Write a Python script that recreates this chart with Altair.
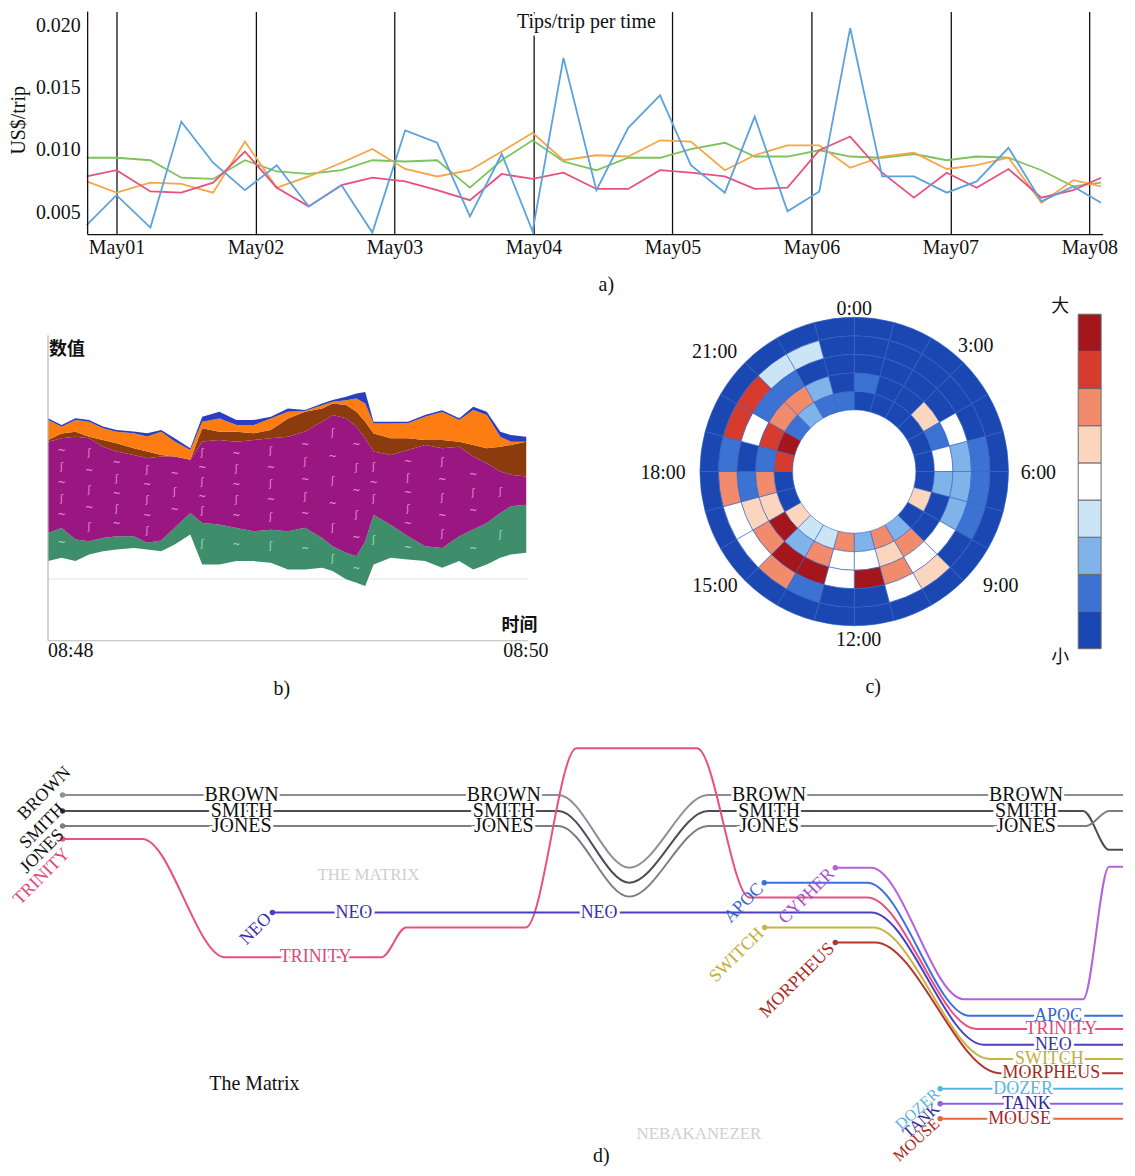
import json
import altair as alt
import pandas as pd

SERIF = "Liberation Serif"
CJK = "Noto Sans CJK SC"

# ======================= (a) Tips/trip per time =======================
A_DAYS = [-0.215, 0.0, 0.244, 0.466, 0.695, 0.924, 1.153, 1.383, 1.619, 1.841, 2.077,
          2.307, 2.543, 2.772, 2.994, 3.216, 3.453, 3.682, 3.911, 4.133, 4.377, 4.592,
          4.828, 5.057, 5.279, 5.509, 5.738, 5.974, 6.189, 6.418, 6.655, 6.884, 7.084]
A_BLUE = [0.0040, 0.0064, 0.0038, 0.0123, 0.0090, 0.0068, 0.0088, 0.0055, 0.0072, 0.0034,
          0.0116, 0.0106, 0.0047, 0.0097, 0.0035, 0.0174, 0.0068, 0.0118, 0.0144, 0.0088,
          0.0066, 0.0127, 0.0051, 0.0067, 0.0198, 0.0079, 0.0079, 0.0066, 0.0075, 0.0102,
          0.0059, 0.0071, 0.0058]
A_PINK = [0.0079, 0.0084, 0.0067, 0.0066, 0.0074, 0.0099, 0.0070, 0.0055, 0.0072, 0.0078,
          0.0075, 0.0068, 0.0060, 0.0081, 0.0077, 0.0082, 0.0069, 0.0069, 0.0084, 0.0082,
          0.0079, 0.0069, 0.0070, 0.0100, 0.0111, 0.0082, 0.0062, 0.0082, 0.0070, 0.0085,
          0.0062, 0.0068, 0.0078]
A_ORANGE = [0.0075, 0.0066, 0.0074, 0.0073, 0.0066, 0.0107, 0.0070, 0.0079, 0.0090, 0.0101,
            0.0085, 0.0079, 0.0084, 0.0099, 0.0114, 0.0092, 0.0096, 0.0095, 0.0108, 0.0107,
            0.0084, 0.0096, 0.0104, 0.0104, 0.0086, 0.0095, 0.0098, 0.0085, 0.0088, 0.0094,
            0.0058, 0.0076, 0.0071]
A_GREEN = [0.0094, 0.0094, 0.0092, 0.0078, 0.0077, 0.0092, 0.0083, 0.0081, 0.0084, 0.0092,
           0.0091, 0.0092, 0.0070, 0.0092, 0.0108, 0.0091, 0.0084, 0.0094, 0.0094, 0.0101,
           0.0106, 0.0095, 0.0095, 0.0100, 0.0095, 0.0094, 0.0097, 0.0092, 0.0095, 0.0094,
           0.0084, 0.0071, 0.0074]
A_DAY_LABELS = ["May01", "May02", "May03", "May04", "May05", "May06", "May07", "May08"]
A_Y_TICKS = [0.005, 0.010, 0.015, 0.020]
A_SERIES = ["green", "orange", "pink", "blue"]
A_COLORS = ["#7cc35e", "#f5a646", "#e8507f", "#5ba2df"]
A_X_MIN, A_X_MAX = -0.2077, 7.099
A_Y_MIN, A_Y_MAX = 0.00324, 0.02112

# ======================= (b) stream graph =======================
B_TIME = [0, 3.4, 6.9, 10.3, 13.8, 17.2, 21.5, 24.9, 28.4, 31.8, 35.7, 38.7, 43.0, 47.3,
          51.6, 55.9, 60.2, 64.5, 68.8, 71.4, 74.8, 77.4, 79.6, 81.7, 86.0, 90.3, 94.6,
          98.9, 103.2, 106.7, 110.1, 113.5, 116.1, 120]
B_BASE = [80, 83.3, 80, 86.7, 90, 91.7, 93.3, 91.7, 90, 96.7, 106.7, 76.7, 76.7, 80, 80,
          78.3, 71.7, 71.7, 73.3, 70, 61.7, 58.3, 55, 76.7, 83.3, 81.7, 80, 73.3, 80, 71.7,
          76.7, 83.3, 86.7, 88.3]
B_GREEN = [28.3, 30, 21.7, 13.3, 13.3, 13.3, 11.7, 6.7, 10.7, 16.7, 21.7, 41.7, 40, 33.3,
           30, 33.3, 38.3, 41.7, 30, 25, 26.7, 26.7, 45, 50, 33.3, 23.3, 15, 20, 25, 40,
           41.7, 45, 48.3, 48.3]
B_PURPLE = [91.7, 90, 103.3, 103.3, 91.7, 85, 81.7, 85, 84.3, 71.7, 53.3, 81.7, 85, 86.7,
            91.7, 91.7, 95, 96.7, 116.7, 131.7, 135, 130, 103.3, 63.3, 70, 86.7, 101.7, 100,
            90, 73.3, 60, 41.7, 31.7, 28.3]
B_BROWN = [1.7, 5, 5, 1.7, 6.7, 8.3, 6.7, 6.7, 1.7, 0, 0, 13.3, 8.3, 10, 6.7, 8.3, 18.3,
           20, 13.3, 11.7, 13.3, 15, 16.7, 18.3, 16.7, 11.7, 5, 8.3, 5, 11.7, 15, 25, 30, 35]
B_ORANGE = [20, 6.7, 11.7, 15, 11.7, 11.7, 15, 15, 23.3, 15, 10, 6.7, 13.3, 6.7, 8.3, 11.7,
            6.7, 0.7, 3.3, 1.7, 5, 13.3, 18.3, 10, 15, 15, 23.3, 28.3, 21.7, 35, 33.3, 10,
            3.3, 0]
B_BLUE = [1.7, 1.7, 1.7, 1.7, 1.7, 1.7, 1.7, 3.3, 1.7, 3.3, 1.7, 5, 6.7, 5, 5, 1.7, 3.3, 1,
          1.7, 1.7, 3.3, 5, 11.7, 1.7, 1.7, 1.7, 1.7, 1.7, 1.7, 3.3, 3.3, 5, 6.7, 5]
B_SERIES = ["green", "purple", "brown", "orange", "blue"]
B_COLORS = ["#3e8e6b", "#9a1680", "#8b3b0e", "#fd7d12", "#2a3fbf"]
B_TEXTURE_FRACS_FULL = [0.14, 0.32, 0.5, 0.68, 0.86]
B_TEXTURE_FRACS_MID = [0.25, 0.5, 0.75]
B_TEXTURE_GLYPHS = ["~", "ʃ"]

# ======================= (c) polar heat map =======================
C_RING0 = [0, 0, 0, 0, 0, 0, 0, 5, 0, 2, 6, 2, 6, 3, 3, 5, 0, 0, 7, 8, 1, 2, 1, 1]
C_RING1 = [1, 0, 0, 5, 1, 4, 2, 0, 0, 6, 5, 4, 4, 6, 2, 8, 5, 6, 1, 7, 6, 6, 2, 0]
C_RING2 = [0, 0, 0, 0, 4, 2, 2, 2, 4, 4, 6, 8, 4, 8, 8, 6, 5, 1, 0, 4, 1, 1, 0, 0]
C_RING3 = [0, 0, 0, 0, 0, 1, 1, 1, 0, 5, 4, 0, 0, 1, 6, 4, 4, 6, 1, 7, 7, 3, 3, 0]
C_RING4 = [0, 0, 0, 0, 0, 0, 0, 0, 0, 0, 0, 0, 0, 0, 0, 0, 0, 0, 0, 0, 0, 0, 0, 0]
C_COLORS = ["#1b47b3", "#3c72d2", "#80b3ea", "#cbe5f7", "#ffffff",
            "#fcd5bf", "#f28b6b", "#d63b2e", "#a4151c"]
C_HOUR_LABELS = ["0:00", "3:00", "6:00", "9:00", "12:00", "15:00", "18:00", "21:00"]
C_HOUR_POS = [0, 2.94, 6.04, 8.53, 11.9, 15.37, 17.96, 20.7]
C_HOUR_RING = [5.43, 6.10, 6.61, 6.70, 5.75, 6.40, 6.99, 6.58]
C_LEGEND_TEXT = ["大", "小"]
C_LEGEND_POS = [9.2, -0.24]

# ======================= (d) storyline =======================
D_NAMES = ["BROWN", "SMITH", "JONES", "TRINITY", "NEO", "APOC", "CYPHER", "SWITCH",
           "MORPHEUS", "DOZER", "TANK", "MOUSE"]
BROWN_X = [53.8, 552, 623, 702, 1119]
BROWN_Y = [65, 65, 138, 65, 65]
SMITH_X = [53.8, 552, 623, 702, 1079, 1105, 1119]
SMITH_Y = [81, 81, 153, 81, 81, 120, 120]
JONES_X = [53.8, 552, 623, 702, 1082, 1105, 1119]
JONES_Y = [96, 96, 167, 96, 96, 81, 81]
TRINITY_X = [53.8, 134, 217, 374, 399, 519, 570, 691, 744, 862, 972, 1119]
TRINITY_Y = [109, 109, 228, 228, 198, 198, 18, 18, 168, 168, 300, 300]
NEO_X = [264.6, 866, 979, 1119]
NEO_Y = [183, 183, 315.7, 315.7]
APOC_X = [758.6, 862, 965, 1119]
APOC_Y = [153, 153, 286.7, 286.7]
CYPHER_X = [830, 866, 959, 1079, 1105, 1119]
CYPHER_Y = [138, 138, 270, 270, 137, 137]
SWITCH_X = [759, 868, 985, 1119]
SWITCH_Y = [198, 198, 330, 330]
MORPHEUS_X = [830, 870, 995, 1119]
MORPHEUS_Y = [213, 213, 344.3, 344.3]
DOZER_X = [935.3, 1119]
DOZER_Y = [360, 360]
TANK_X = [935.3, 1119]
TANK_Y = [375, 375]
MOUSE_X = [935.3, 1119]
MOUSE_Y = [390, 390]

D_LINE_COLORS = ["#8e8e9a", "#4d4d57", "#7d7d88", "#e9507e", "#4b3fc4", "#3d6fdc",
                 "#b562d8", "#c7b443", "#b5352b", "#56b6e2", "#8b63e0", "#e06a3c"]
D_TEXT_COLORS = ["#111111", "#111111", "#111111", "#e0457a", "#3a2fa8", "#3563d0",
                 "#a64fcf", "#bfae3a", "#a8281f", "#5ab4e0", "#2f2a8a", "#a8281f"]

D_BIG_NAMES = ["BROWN", "SMITH", "JONES"] * 4
D_BIG_X = [233.7] * 3 + [497] * 3 + [763.5] * 3 + [1021.6] * 3
D_BIG_Y = [65, 81, 96] * 4
D_INLINE_NAMES = ["TRINITY", "TRINITY", "NEO", "NEO", "NEO", "APOC", "SWITCH", "MORPHEUS",
                  "DOZER", "TANK", "MOUSE"]
D_INLINE_X = [308, 1057, 346.4, 592.7, 1049, 1053.7, 1045, 1047, 1018.7, 1022, 1015]
D_INLINE_Y = [228, 300, 183, 183, 315.7, 286.7, 330, 344.3, 360, 375, 390]

D_DOT_X = [53.8, 53.8, 53.8, 53.8, 264.6, 758.6, 830, 759, 830, 935.3, 935.3, 935.3]
D_DOT_Y = [65, 81, 96, 109, 183, 153, 138, 198, 213, 360, 375, 390]
D_TAG_X = [63, 57, 56, 62, 264.6, 758.6, 830, 759, 830, 935.3, 935.3, 935.3]
D_TAG_Y = [36, 73, 99, 118, 183, 153, 138, 198, 213, 360, 375, 390]
D_TAG_NAMES_BIG = D_NAMES[:9]
D_TAG_NAMES_SMALL = D_NAMES[9:]

D_NOTE_TEXT = ["THE MATRIX", "NEBAKANEZER"]
D_NOTE_X = [361, 693]
D_NOTE_Y = [145, 405]

# ======================= build (a) =======================
a_rows = []
for nm, vals in zip(A_SERIES, [A_GREEN, A_ORANGE, A_PINK, A_BLUE]):
    for d, v in zip(A_DAYS, vals):
        a_rows.append({"day": d, "val": v, "series": nm})
a_df = pd.DataFrame(a_rows)
label_expr = json.dumps(A_DAY_LABELS) + "[datum.value]"
ax_s = alt.Scale(domain=[-0.7736, A_X_MAX], nice=False, zero=False)
ay_s = alt.Scale(domain=[A_Y_MIN, A_Y_MAX], nice=False, zero=False)

a_lines = alt.Chart(a_df).mark_line(strokeWidth=1.8).encode(
    x=alt.X("day:Q", scale=ax_s,
            axis=alt.Axis(values=list(range(8)), labelExpr=label_expr, title=None, grid=True,
                          gridColor="#111", gridWidth=1.3, gridOpacity=1, ticks=False,
                          domain=False, labelFont=SERIF, labelFontSize=20, labelColor="#111",
                          labelPadding=3, labelFlush=False)),
    y=alt.Y("val:Q", scale=ay_s, axis=None),
    color=alt.Color("series:N", scale=alt.Scale(domain=A_SERIES, range=A_COLORS), legend=None),
    detail="series:N",
)
a_xline = alt.Chart(pd.DataFrame({"x0": [A_X_MIN], "x1": [A_X_MAX], "y": [A_Y_MIN]})).mark_rule(
    color="#111", strokeWidth=1.3).encode(
    x=alt.X("x0:Q", scale=ax_s), x2="x1:Q", y=alt.Y("y:Q", scale=ay_s))
a_yline = alt.Chart(pd.DataFrame({"x": [A_X_MIN], "y0": [A_Y_MIN], "y1": [A_Y_MAX]})).mark_rule(
    color="#111", strokeWidth=1.3).encode(
    x=alt.X("x:Q", scale=ax_s), y=alt.Y("y0:Q", scale=ay_s), y2="y1:Q")
a_ylab = alt.Chart(pd.DataFrame({"v": A_Y_TICKS, "x": [A_X_MIN] * 4})).mark_text(
    font=SERIF, fontSize=20, color="#111", align="right", dx=-7).encode(
    x=alt.X("x:Q", scale=ax_s), y=alt.Y("v:Q", scale=ay_s), text=alt.Text("v:Q", format=".3f"))
a_ytitle = alt.Chart(pd.DataFrame({"t": ["US$/trip"], "x": [-0.702], "y": [0.0124]})).mark_text(
    font=SERIF, fontSize=20, color="#111", angle=270).encode(
    x=alt.X("x:Q", scale=ax_s), y=alt.Y("y:Q", scale=ay_s), text="t:N")
a_title_df = pd.DataFrame({"t": ["Tips/trip per time"]})
a_halo = alt.Chart(a_title_df).mark_text(font=SERIF, fontSize=20, color="white",
                                         stroke="white", strokeWidth=5).encode(
    x=alt.value(580), y=alt.value(10), text="t:N")
a_text = alt.Chart(a_title_df).mark_text(font=SERIF, fontSize=20, color="#111").encode(
    x=alt.value(580), y=alt.value(10), text="t:N")
chart_a = alt.layer(a_lines, a_xline, a_yline, a_ylab, a_ytitle, a_halo, a_text).properties(
    width=1099, height=224,
    title=alt.TitleParams("a)", orient="bottom", frame="group", offset=18, dx=50.5,
                          anchor="middle", font=SERIF, fontSize=20, fontWeight="normal",
                          color="#111"))

# ======================= build (b) + (c) in one view =======================
b_rows = []
tex_rows = []
for i, t in enumerate(B_TIME):
    lo = B_BASE[i]
    for nm, vals in zip(B_SERIES, [B_GREEN, B_PURPLE, B_BROWN, B_ORANGE, B_BLUE]):
        hi = lo + vals[i]
        b_rows.append({"t": t, "series": nm, "lo": lo, "hi": hi})
        inner = 0 < i < len(B_TIME) - 1 and i % 2 == 1
        if nm == "purple" and inner:
            if vals[i] >= 75:
                fracs = B_TEXTURE_FRACS_FULL
            elif vals[i] >= 48:
                fracs = B_TEXTURE_FRACS_MID
            else:
                fracs = [0.5]
            for k, f in enumerate(fracs):
                tex_rows.append({"t": t, "v": lo + f * vals[i], "kind": "purple",
                                 "g": B_TEXTURE_GLYPHS[(i // 2 + k) % 2]})
        if nm == "green" and inner and vals[i] > 20:
            tex_rows.append({"t": t, "v": lo + 0.5 * vals[i], "kind": "green",
                             "g": B_TEXTURE_GLYPHS[(i // 2) % 2]})
        lo = hi
b_df = pd.DataFrame(b_rows)
tex_df = pd.DataFrame(tex_rows)
bx = alt.Scale(domain=[-9.79, 269.75], nice=False, zero=False)
by = alt.Scale(domain=[-24, 344], nice=False, zero=False)

b_grid = alt.Chart(pd.DataFrame({"t0": [0], "t1": [120.5], "v": [62]})).mark_rule(
    color="#e4e4e4", strokeWidth=1).encode(
    x=alt.X("t0:Q", scale=bx, axis=None), x2="t1:Q", y=alt.Y("v:Q", scale=by, axis=None))
b_area = alt.Chart(b_df).mark_area().encode(
    x=alt.X("t:Q", scale=bx, axis=None),
    y=alt.Y("hi:Q", scale=by, axis=None), y2="lo:Q",
    color=alt.Color("series:N", scale=alt.Scale(domain=B_SERIES, range=B_COLORS), legend=None))
b_tex = alt.Chart(tex_df).mark_text(font="DejaVu Sans", fontSize=10, opacity=0.85).encode(
    x=alt.X("t:Q", scale=bx, axis=None), y=alt.Y("v:Q", scale=by, axis=None), text="g:N",
    color=alt.Color("kind:N", scale=alt.Scale(domain=["purple", "green"],
                                              range=["#f3a5e2", "#b8e6c8"]), legend=None))
b_vline = alt.Chart(pd.DataFrame({"t": [0], "v0": [0], "v1": [307]})).mark_rule(
    color="#b8b8b8", strokeWidth=1.2).encode(
    x=alt.X("t:Q", scale=bx, axis=None), y=alt.Y("v0:Q", scale=by, axis=None), y2="v1:Q")
b_hline = alt.Chart(pd.DataFrame({"t0": [0], "t1": [120.5], "v": [0]})).mark_rule(
    color="#b8b8b8", strokeWidth=1.2).encode(
    x=alt.X("t0:Q", scale=bx, axis=None), x2="t1:Q", y=alt.Y("v:Q", scale=by, axis=None))
b_cjk = alt.Chart(pd.DataFrame({"txt": ["数值", "时间"], "t": [4.75, 118.3], "v": [291.7, 15]})
                  ).mark_text(font=CJK, fontSize=18, fontWeight="bold", color="#111").encode(
    x=alt.X("t:Q", scale=bx, axis=None), y=alt.Y("v:Q", scale=by, axis=None), text="txt:N")
b_t0 = alt.Chart(pd.DataFrame({"txt": ["08:48"], "t": [0], "v": [-10]})).mark_text(
    font=SERIF, fontSize=20, align="left", color="#111").encode(
    x=alt.X("t:Q", scale=bx, axis=None), y=alt.Y("v:Q", scale=by, axis=None), text="txt:N")
b_t1 = alt.Chart(pd.DataFrame({"txt": ["08:50"], "t": [125.6], "v": [-10]})).mark_text(
    font=SERIF, fontSize=20, align="right", color="#111").encode(
    x=alt.X("t:Q", scale=bx, axis=None), y=alt.Y("v:Q", scale=by, axis=None), text="txt:N")

c_rows = []
for ring, vals in enumerate([C_RING0, C_RING1, C_RING2, C_RING3, C_RING4]):
    for h, lv in enumerate(vals):
        c_rows.append({"start": h, "end": h + 1, "r0": ring, "r1": ring + 1, "level": lv})
c_df = pd.DataFrame(c_rows)
theta_scale = alt.Scale(domain=[0, 24], range=[0, 6.283185307])
radius_scale = alt.Scale(type="linear", domain=[0, 5], range=[62, 155], zero=False)
color_c = alt.Color("level:O", scale=alt.Scale(domain=list(range(9)), range=C_COLORS),
                    legend=None)
CX, CY = 849, 174
c_arcs = alt.Chart(c_df).mark_arc(stroke="#3561c2", strokeWidth=0.6).encode(
    theta=alt.Theta("start:Q", scale=theta_scale, stack=False), theta2="end:Q",
    radius=alt.Radius("r0:Q", scale=radius_scale), radius2="r1:Q",
    color=color_c, x=alt.value(CX), y=alt.value(CY))
c_hours = alt.Chart(pd.DataFrame({"lab": C_HOUR_LABELS, "lh": C_HOUR_POS, "lr": C_HOUR_RING})
                    ).mark_text(font=SERIF, fontSize=20, color="#111").encode(
    theta=alt.Theta("lh:Q", scale=theta_scale, stack=False),
    radius=alt.Radius("lr:Q", scale=radius_scale),
    text="lab:N", x=alt.value(CX), y=alt.value(CY))
leg_scale = alt.Scale(domain=[-0.4286, 9.4286], nice=False, zero=False)
c_leg = alt.Chart(pd.DataFrame({"lo": list(range(9)), "hi": list(range(1, 10)),
                                "level": list(range(9))})).mark_rect(
    stroke="#6b6b6b", strokeWidth=1).encode(
    x=alt.value(1074), x2=alt.value(1097),
    y=alt.Y("lo:Q", scale=leg_scale, axis=None), y2="hi:Q", color=color_c)
c_legtxt = alt.Chart(pd.DataFrame({"txt": C_LEGEND_TEXT, "p": C_LEGEND_POS})).mark_text(
    font=CJK, fontSize=18, color="#111").encode(
    x=alt.value(1056), y=alt.Y("p:Q", scale=leg_scale, axis=None), text="txt:N")
cap_b = alt.Chart(pd.DataFrame({"txt": ["b)"]})).mark_text(
    font=SERIF, fontSize=20, color="#111").encode(x=alt.value(274), y=alt.value(392),
                                                  text="txt:N")
cap_c = alt.Chart(pd.DataFrame({"txt": ["c)"]})).mark_text(
    font=SERIF, fontSize=20, color="#111").encode(x=alt.value(868), y=alt.value(390),
                                                  text="txt:N")
chart_bc = alt.layer(b_grid, b_area, b_tex, b_vline, b_hline, b_cjk, b_t0, b_t1,
                     c_arcs, c_hours, c_leg, c_legtxt, cap_b, cap_c).resolve_scale(
    y="independent", color="independent").properties(width=1119, height=368)

# ======================= build (d) =======================
paths = {
    "BROWN": (BROWN_X, BROWN_Y), "SMITH": (SMITH_X, SMITH_Y), "JONES": (JONES_X, JONES_Y),
    "TRINITY": (TRINITY_X, TRINITY_Y), "NEO": (NEO_X, NEO_Y), "APOC": (APOC_X, APOC_Y),
    "CYPHER": (CYPHER_X, CYPHER_Y), "SWITCH": (SWITCH_X, SWITCH_Y),
    "MORPHEUS": (MORPHEUS_X, MORPHEUS_Y), "DOZER": (DOZER_X, DOZER_Y),
    "TANK": (TANK_X, TANK_Y), "MOUSE": (MOUSE_X, MOUSE_Y)}
d_rows = []
for nm in D_NAMES:
    xs, ys = paths[nm]
    for i, (x, y) in enumerate(zip(xs, ys)):
        d_rows.append({"name": nm, "i": i, "x": x, "y": y})
d_df = pd.DataFrame(d_rows)
dx_s = alt.Scale(domain=[0, 1119], nice=False, zero=False)
dy_s = alt.Scale(domain=[-2, 438], nice=False, zero=False, reverse=True)
line_color = alt.Color("name:N", scale=alt.Scale(domain=D_NAMES, range=D_LINE_COLORS),
                       legend=None)
text_color = alt.Color("name:N", scale=alt.Scale(domain=D_NAMES, range=D_TEXT_COLORS),
                       legend=None)


def X(f):
    return alt.X(f, scale=dx_s, axis=None)


def Y(f):
    return alt.Y(f, scale=dy_s, axis=None)


d_notes = alt.Chart(pd.DataFrame({"txt": D_NOTE_TEXT, "x": D_NOTE_X, "y": D_NOTE_Y})).mark_text(
    font=SERIF, fontSize=17, color="#cfcfcf").encode(x=X("x:Q"), y=Y("y:Q"), text="txt:N")
d_lines = alt.Chart(d_df).mark_line(interpolate="monotone", strokeWidth=2).encode(
    x=X("x:Q"), y=Y("y:Q"), color=line_color, detail="name:N", order="i:Q")
dot_df = pd.DataFrame({"name": D_NAMES, "x": D_DOT_X, "y": D_DOT_Y})
d_dots = alt.Chart(dot_df).mark_circle(size=30, opacity=1).encode(
    x=X("x:Q"), y=Y("y:Q"), color=line_color)
big_df = pd.DataFrame({"name": D_BIG_NAMES, "x": D_BIG_X, "y": D_BIG_Y})
inl_df = pd.DataFrame({"name": D_INLINE_NAMES, "x": D_INLINE_X, "y": D_INLINE_Y})
d_halo_big = alt.Chart(big_df).mark_text(font=SERIF, fontSize=20, color="white", stroke="white",
                                         strokeWidth=6).encode(x=X("x:Q"), y=Y("y:Q"),
                                                               text="name:N")
d_halo = alt.Chart(inl_df).mark_text(font=SERIF, fontSize=18, color="white", stroke="white",
                                     strokeWidth=6).encode(x=X("x:Q"), y=Y("y:Q"),
                                                           text="name:N")
d_big = alt.Chart(big_df).mark_text(font=SERIF, fontSize=20).encode(
    x=X("x:Q"), y=Y("y:Q"), text="name:N", color=text_color)
d_inl = alt.Chart(inl_df).mark_text(font=SERIF, fontSize=18).encode(
    x=X("x:Q"), y=Y("y:Q"), text="name:N", color=text_color)
tag_df = pd.DataFrame({"name": D_NAMES, "x": D_TAG_X, "y": D_TAG_Y})
d_tags = alt.Chart(tag_df).transform_filter(
    alt.FieldOneOfPredicate(field="name", oneOf=D_TAG_NAMES_BIG)).mark_text(
    font=SERIF, fontSize=18, angle=315, align="right", baseline="middle", dx=-5).encode(
    x=X("x:Q"), y=Y("y:Q"), text="name:N", color=text_color)
d_tags_small = alt.Chart(tag_df).transform_filter(
    alt.FieldOneOfPredicate(field="name", oneOf=D_TAG_NAMES_SMALL)).mark_text(
    font=SERIF, fontSize=16, angle=318, align="right", baseline="middle", dx=-4).encode(
    x=X("x:Q"), y=Y("y:Q"), text="name:N", color=text_color)
d_matrix = alt.Chart(pd.DataFrame({"txt": ["The Matrix"], "x": [246.5], "y": [355]})).mark_text(
    font=SERIF, fontSize=20, color="#111").encode(x=X("x:Q"), y=Y("y:Q"), text="txt:N")
d_cap = alt.Chart(pd.DataFrame({"txt": ["d)"], "x": [595], "y": [428]})).mark_text(
    font=SERIF, fontSize=20, color="#111").encode(x=X("x:Q"), y=Y("y:Q"), text="txt:N")
chart_d = alt.layer(d_notes, d_lines, d_dots, d_halo_big, d_halo, d_big, d_inl, d_tags,
                    d_tags_small, d_matrix, d_cap).resolve_scale(color="independent").properties(
    width=1119, height=440)

chart = alt.concat(chart_a, chart_bc, chart_d, columns=1, spacing=64, align="none",
                   bounds="flush").resolve_scale(color="independent").properties(
    padding=0).configure_view(stroke=None)

chart.save("out.html", embed_options={"renderer": "svg", "actions": False})
